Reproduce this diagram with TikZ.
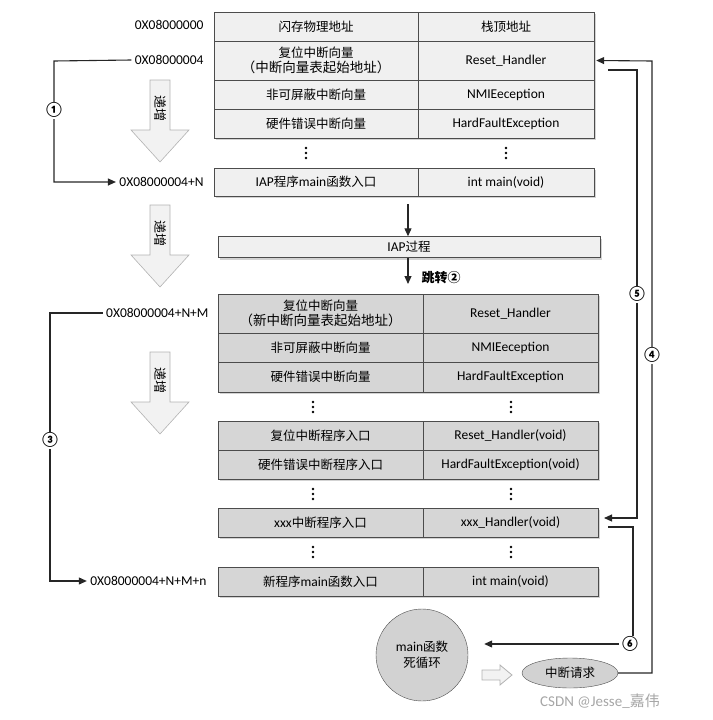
\documentclass[tikz,border=0pt]{standalone}
\usepackage{fontspec}
\setmainfont{Carlito}
\newfontfamily\cjk{Noto Sans CJK SC}
\usetikzlibrary{shadows,arrows.meta,shapes.geometric}
\begin{document}
\begin{tikzpicture}[x=1pt,y=-1pt,
  cA/.style={draw=gray!60!black,fill=gray!12,inner sep=0pt,font=\fontsize{13.5}{15}\selectfont,align=center,drop shadow={opacity=0.35,shadow xshift=2pt,shadow yshift=-2pt}},
  cB/.style={cA,fill=gray!32},
  lab/.style={font=\fontsize{13.5}{15}\selectfont,anchor=east},
  con/.style={draw=gray!30!black,line width=1.1pt},
  arr/.style={con,-{Triangle[length=8pt,width=7pt]}},
  num/.style={font=\fontsize{15}{16}\selectfont\bfseries,fill=white,inner sep=1pt},
  big/.style={draw=gray!60,fill=gray!10,line width=0.6pt}]
\useasboundingbox (0,0) rectangle (712,720);
\newcommand\mrow[9]{%
  \node[#9,minimum width={(#5)-(#4)},minimum height={(#3)-(#2)}] (#1L) at ({((#4)+(#5))/2},{((#2)+(#3))/2}) {#7};
  \node[#9,minimum width={(#6)-(#5)},minimum height={(#3)-(#2)}] (#1R) at ({((#5)+(#6))/2},{((#2)+(#3))/2}) {#8};}
\newcommand\vdts[2]{\foreach \dy in {-5,0,5}{\fill (#1,#2+\dy) circle (1.4);}}
% top table
\mrow{a}{12}{41}{214}{418}{594}{\cjk\fontsize{12.5}{14}\selectfont 闪存物理地址}{\cjk\fontsize{12.5}{14}\selectfont 栈顶地址}{cA}
\mrow{b}{41}{80}{214}{418}{594}{\cjk\fontsize{12.5}{15}\selectfont 复位中断向量\\\cjk （中断向量表起始地址）}{Reset\_Handler}{cA}
\mrow{c}{80}{109}{214}{418}{594}{\cjk\fontsize{12.5}{14}\selectfont 非可屏蔽中断向量}{NMIEeception}{cA}
\mrow{d}{109}{138}{214}{418}{594}{\cjk\fontsize{12.5}{14}\selectfont 硬件错误中断向量}{HardFaultException}{cA}
\vdts{306}{153}\vdts{506}{153}
\mrow{e}{168}{196}{214}{418}{594}{IAP{\cjk\fontsize{12.5}{14}\selectfont 程序}main{\cjk\fontsize{12.5}{14}\selectfont 函数入口}}{int main(void)}{cA}
\node[cA,minimum width=382,minimum height=21] (iap) at (409,247) {IAP{\cjk\fontsize{12.5}{14}\selectfont 过程}};
\coordinate (t1) at (408,204);
\draw[arr] (t1) -- (iap.north-|t1);
\coordinate (t2) at (408,284);
\draw[arr] (iap.south-|t2) -- (t2);
\node[font=\fontsize{13}{14}\selectfont\bfseries,anchor=west] (jump) at (418,278) {\cjk 跳转②};
% lower table
\mrow{f}{294}{333}{218}{423}{598}{\cjk\fontsize{12.5}{15}\selectfont 复位中断向量\\\cjk （新中断向量表起始地址）}{Reset\_Handler}{cB}
\mrow{g}{333}{362}{218}{423}{598}{\cjk\fontsize{12.5}{14}\selectfont 非可屏蔽中断向量}{NMIEeception}{cB}
\mrow{h}{362}{392}{218}{423}{598}{\cjk\fontsize{12.5}{14}\selectfont 硬件错误中断向量}{HardFaultException}{cB}
\vdts{313}{407}\vdts{511}{407}
\mrow{i}{421}{450}{218}{423}{598}{\cjk\fontsize{12.5}{14}\selectfont 复位中断程序入口}{Reset\_Handler(void)}{cB}
\mrow{j}{450}{479}{218}{423}{598}{\cjk\fontsize{12.5}{14}\selectfont 硬件错误中断程序入口}{HardFaultException(void)}{cB}
\vdts{313}{494}\vdts{511}{494}
\mrow{k}{508}{537}{218}{423}{598}{xxx{\cjk\fontsize{12.5}{14}\selectfont 中断程序入口}}{xxx\_Handler(void)}{cB}
\vdts{313}{552}\vdts{511}{552}
\mrow{l}{567}{596}{218}{423}{598}{{\cjk\fontsize{12.5}{14}\selectfont 新程序}main{\cjk\fontsize{12.5}{14}\selectfont 函数入口}}{int main(void)}{cB}
% left labels
\node[lab] (l0) at (207,25) {0X08000000};
\node[lab] (l1) at (207,60) {0X08000004};
\node[lab] (l2) at (207,182) {0X08000004+N};
\node[lab] (l3) at (212,313) {0X08000004+N+M};
\node[lab] (l4) at (210,581) {0X08000004+N+M+n};
\coordinate (b1) at (54,61);
\coordinate (b2) at (54,182);
\draw[arr] (l1.west) -- (b1) -- (b2) -- (l2.west);
\node[num] (n1) at (54,110) {①};
\coordinate (b3) at (50,313);
\coordinate (b4) at (50,581);
\draw[arr] (l3.west) -- (b3) -- (b4) -- (l4.west);
\node[num] (n3) at (50,440) {③};
% big hollow arrows
\foreach \t in {80,205,352}{
  \draw[big] (150,\t) -- (170,\t) -- (170,\t+50) -- (189,\t+50) -- (160,\t+82) -- (131,\t+50) -- (150,\t+50) -- cycle;
  \node[rotate=-90,font=\fontsize{13}{13}\selectfont\cjk,inner sep=0pt] at (160,\t+28) {递增};}
% bottom
\node[circle,draw=gray!60!black,fill=gray!35,minimum size=92,inner sep=0,align=center,font=\fontsize{13.5}{16}\selectfont] (loop) at (422,655) {main{\cjk\fontsize{12.5}{14}\selectfont 函数}\\{\cjk\fontsize{12.5}{14}\selectfont 死循环}};
\node[ellipse,draw=gray!60!black,fill=gray!35,minimum width=96,minimum height=30,inner sep=0,font=\fontsize{12.5}{14}\selectfont\cjk] (irq) at (570,673) {中断请求};
\draw[big,line width=0.8pt] (482,670) -- (500,670) -- (500,665) -- (512,675) -- (500,685) -- (500,680) -- (482,680) -- cycle;
% right connectors
\coordinate (r4) at (652,61);
\draw[arr] (irq.east) -- (irq.east-|r4) -- (r4) -- ([xshift=2pt]bR.east);
\node[num] (n4) at (652,355) {④};
\coordinate (r5a) at (637,70);
\coordinate (r5b) at (637,518);
\coordinate (s5) at (608,70);
\coordinate (e5) at (604,518);
\draw[arr] (s5) -- (r5a) -- (r5b) -- (e5);
\node[num] (n5) at (637,294) {⑤};
\coordinate (s6) at (608,527);
\coordinate (r6a) at (633,527);
\coordinate (r6b) at (633,644);
\draw[arr] (s6) -- (r6a) -- (r6b) -- ([xshift=16pt]loop.east|-r6b);
\node[num] (n6) at (630,644) {⑥};
\node[font=\fontsize{15}{16}\selectfont,text=gray!70] (wm) at (600,701) {CSDN @Jesse\_{\cjk 嘉伟}};
\end{tikzpicture}
\end{document}
